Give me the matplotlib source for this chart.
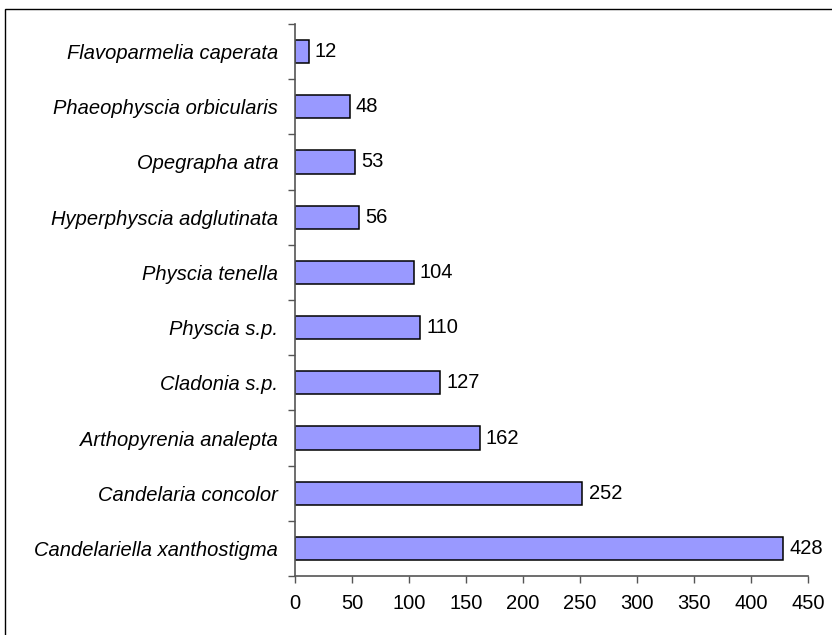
import numpy as np
import matplotlib.pyplot as plt
from matplotlib.patches import Rectangle

species = ["Candelariella xanthostigma", "Candelaria concolor", "Arthopyrenia analepta",
           "Cladonia s.p.", "Physcia s.p.", "Physcia tenella", "Hyperphyscia adglutinata",
           "Opegrapha atra", "Phaeophyscia orbicularis", "Flavoparmelia caperata"]
counts = [428, 252, 162, 127, 110, 104, 56, 53, 48, 12]
xticks = [0, 50, 100, 150, 200, 250, 300, 350, 400, 450]

plt.rcParams['font.family'] = ['Liberation Sans', 'DejaVu Sans']
fs = 14.5

fig = plt.figure(figsize=(8.32, 6.35), dpi=100)
# outer chart border
fig.patches.append(Rectangle((5/832, -0.01), 1.0, 1 - 9/635 + 0.01, transform=fig.transFigure,
                             fill=False, edgecolor="black", linewidth=1.0))

ax = fig.add_axes([295/832, 1 - 576/635, 513/832, 552/635])
y = np.arange(len(species))
ax.barh(y, counts, height=0.42, color="#9999FF", edgecolor="black", linewidth=1.1)

for yi, v in zip(y, counts):
    ax.annotate(str(v), (v, yi), xytext=(4.5, 0), textcoords="offset points",
                va="center", ha="left", fontsize=fs)

ax.set_xlim(0, 450)
ax.set_ylim(-0.5, len(species) - 0.5)
ax.set_xticks(xticks)
ax.set_yticks(y)
ax.set_yticklabels(species, fontstyle="italic", fontsize=fs)
ax.set_yticks(np.arange(-0.5, len(species)), minor=True)
ax.tick_params(axis="y", which="major", length=0, pad=12)
ax.tick_params(axis="y", which="minor", length=5, color="#555555", width=1)
ax.tick_params(axis="x", length=5, color="#555555", width=1, labelsize=fs, pad=8)

for s in ["top", "right"]:
    ax.spines[s].set_visible(False)
for s in ["left", "bottom"]:
    ax.spines[s].set_color("#555555")
    ax.spines[s].set_linewidth(1.2)

fig.savefig("out.png", dpi=100)
